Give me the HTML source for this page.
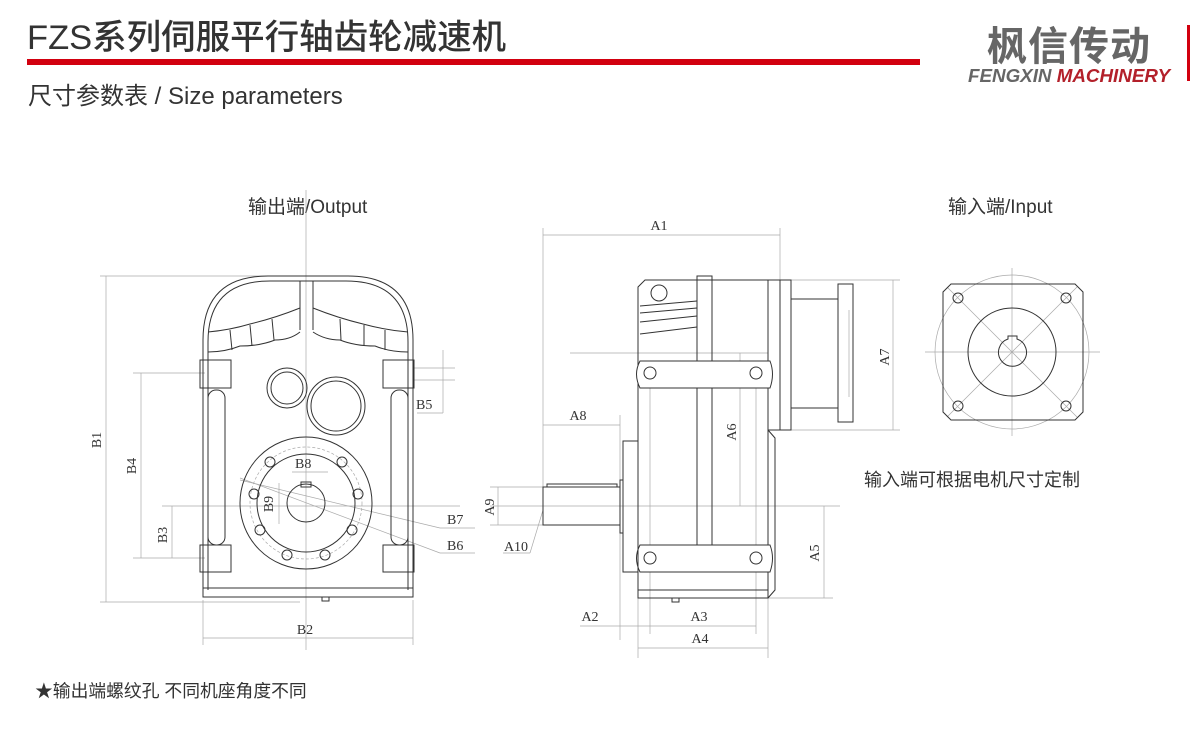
<!DOCTYPE html>
<html><head><meta charset="utf-8"><style>
html,body{margin:0;padding:0;background:#fff;width:1191px;height:746px;overflow:hidden}
svg{display:block}
.t{font-family:"Liberation Sans","Noto Sans CJK SC",sans-serif}
.d{font-family:"Liberation Serif","Noto Serif CJK SC",serif;font-size:14px;fill:#333}
</style></head><body>
<svg width="1191" height="746" viewBox="0 0 1191 746" xmlns="http://www.w3.org/2000/svg">
<!-- header -->
<text class="t" x="27" y="49" font-size="34.5" fill="#333" font-weight="500">FZS系列伺服平行轴齿轮减速机</text>
<rect x="27" y="59" width="893" height="6" fill="#d2000f"/>
<text class="t" x="28" y="104" font-size="24" fill="#333">尺寸参数表 / Size parameters</text>
<text class="t" x="987" y="60" font-size="40" font-weight="bold" fill="#666" letter-spacing="1">枫信传动</text>
<text class="t" x="968" y="82" font-size="18.8" font-weight="bold" font-style="italic" fill="#666">FENGXIN <tspan fill="#b3202a">MACHINERY</tspan></text>
<rect x="1187" y="25" width="3" height="56" fill="#d2000f"/>

<text class="t" x="248" y="213" font-size="19" fill="#333">输出端/Output</text>
<text class="t" x="948" y="213" font-size="19" fill="#333">输入端/Input</text>
<text class="t" x="864" y="486" font-size="18" fill="#333">输入端可根据电机尺寸定制</text>
<text class="t" x="35" y="697" font-size="17.8" fill="#333">★输出端螺纹孔 不同机座角度不同</text>

<g fill="none" stroke="#333" stroke-width="1">
<!-- LEFT VIEW -->
<g stroke="#aaa" stroke-width="0.7">
<line x1="306" y1="190" x2="306" y2="650"/>
<line x1="162" y1="506" x2="460" y2="506"/>
<line x1="100" y1="276" x2="300" y2="276"/>
<line x1="100" y1="602" x2="300" y2="602"/>
<line x1="106" y1="276" x2="106" y2="602"/>
<line x1="133" y1="373" x2="205" y2="373"/>
<line x1="133" y1="558" x2="205" y2="558"/>
<line x1="141" y1="373" x2="141" y2="558"/>
<line x1="172" y1="506" x2="172" y2="558"/>
<line x1="203" y1="600" x2="203" y2="645"/>
<line x1="413" y1="600" x2="413" y2="645"/>
<line x1="203" y1="638" x2="413" y2="638"/>
<line x1="413" y1="368" x2="455" y2="368"/>
<line x1="413" y1="380" x2="455" y2="380"/>
<line x1="443" y1="350" x2="443" y2="413"/>
<line x1="417" y1="413" x2="443" y2="413"/>
<line x1="240" y1="480" x2="440" y2="528"/>
<line x1="440" y1="528" x2="475" y2="528"/>
<line x1="240" y1="478" x2="440" y2="553"/>
<line x1="440" y1="553" x2="475" y2="553"/>
<circle cx="306" cy="503" r="56" stroke-dasharray="3 2"/>
<line x1="292" y1="472" x2="328" y2="472"/>
<line x1="279" y1="483" x2="279" y2="524"/>
</g>
<path d="M203 597 V340 Q203 276 268 276 H348 Q413 276 413 340 V597 Z"/>
<path d="M208 590 V342 Q208 281 270 281 H346 Q408 281 408 342 V590"/>
<rect x="203" y="588" width="210" height="9"/>
<line x1="300" y1="281" x2="300" y2="330"/><line x1="313" y1="281" x2="313" y2="330"/>
<path d="M208 332 Q230 330 250 324 Q275 318 300 308"/>
<path d="M208 352 Q225 352 240 346 Q260 346 275 340 Q290 340 300 332"/>
<path d="M313 308 Q338 318 363 324 Q385 330 408 332"/>
<path d="M313 332 Q325 340 340 340 Q355 346 375 346 Q390 352 408 352"/>
<line x1="230" y1="330" x2="232" y2="350"/><line x1="250" y1="325" x2="252" y2="346"/><line x1="272" y1="319" x2="274" y2="340"/>
<line x1="340" y1="319" x2="341" y2="340"/><line x1="364" y1="325" x2="364" y2="346"/><line x1="385" y1="330" x2="385" y2="350"/>
<rect x="200" y="360" width="31" height="28"/><rect x="383" y="360" width="31" height="28"/>
<rect x="200" y="545" width="31" height="27"/><rect x="383" y="545" width="31" height="27"/>
<rect x="208" y="390" width="17" height="155" rx="8"/><rect x="391" y="390" width="17" height="155" rx="8"/>
<circle cx="287" cy="388" r="20"/><circle cx="287" cy="388" r="16"/>
<circle cx="336" cy="406" r="29"/><circle cx="336" cy="406" r="25"/>
<circle cx="306" cy="503" r="66"/><circle cx="306" cy="503" r="49"/>
<circle cx="306" cy="503" r="19"/>
<rect x="301" y="482" width="10" height="5"/>
<g>
<circle cx="270" cy="462" r="5"/><circle cx="342" cy="462" r="5"/>
<circle cx="254" cy="494" r="5"/><circle cx="358" cy="494" r="5"/>
<circle cx="260" cy="530" r="5"/><circle cx="352" cy="530" r="5"/>
<circle cx="287" cy="555" r="5"/><circle cx="325" cy="555" r="5"/>
</g>
<rect x="322" y="597" width="7" height="4"/>

<!-- MIDDLE VIEW -->
<g stroke="#aaa" stroke-width="0.7">
<line x1="543" y1="228" x2="543" y2="510"/>
<line x1="780" y1="228" x2="780" y2="290"/>
<line x1="543" y1="235" x2="780" y2="235"/>
<line x1="620" y1="415" x2="620" y2="640"/>
<line x1="543" y1="425" x2="620" y2="425"/>
<line x1="570" y1="353" x2="768" y2="353"/>
<line x1="740" y1="353" x2="740" y2="506"/>
<line x1="490" y1="506" x2="840" y2="506"/>
<line x1="490" y1="487" x2="545" y2="487"/>
<line x1="490" y1="525" x2="545" y2="525"/>
<line x1="498" y1="487" x2="498" y2="525"/>
<line x1="768" y1="598" x2="833" y2="598"/>
<line x1="824" y1="506" x2="824" y2="598"/>
<line x1="791" y1="280" x2="900" y2="280"/>
<line x1="791" y1="430" x2="900" y2="430"/>
<line x1="893" y1="280" x2="893" y2="430"/>
<line x1="638" y1="598" x2="638" y2="658"/>
<line x1="768" y1="598" x2="768" y2="658"/>
<line x1="650" y1="373" x2="650" y2="634"/>
<line x1="756" y1="373" x2="756" y2="634"/>
<line x1="580" y1="626" x2="756" y2="626"/>
<line x1="638" y1="648" x2="768" y2="648"/>
<line x1="503" y1="553" x2="530" y2="553"/>
<line x1="530" y1="553" x2="543" y2="510"/>
<line x1="849" y1="310" x2="849" y2="397"/>
</g>
<path d="M638 287 L645 280 H768 V598 H638 Z"/>
<rect x="697" y="276" width="15" height="269"/>
<rect x="768" y="280" width="23" height="150"/>
<line x1="780" y1="280" x2="780" y2="430"/>
<rect x="791" y="299" width="47" height="109"/>
<rect x="838" y="284" width="15" height="138"/>
<path d="M768 430 L775 438 V590 L768 598"/>
<circle cx="659" cy="293" r="8"/>
<line x1="640" y1="306" x2="697" y2="301"/><line x1="640" y1="313" x2="697" y2="308"/>
<line x1="640" y1="322" x2="697" y2="316"/><line x1="640" y1="334" x2="697" y2="327"/>
<path d="M640 361 H770 Q775 374 770 388 H640 Q633 374 640 361 Z" fill="#fff"/>
<path d="M640 545 H770 Q775 558 770 572 H640 Q633 558 640 545 Z" fill="#fff"/>
<circle cx="650" cy="373" r="6"/><circle cx="756" cy="373" r="6"/>
<circle cx="650" cy="558" r="6"/><circle cx="756" cy="558" r="6"/>
<rect x="623" y="441" width="15" height="131"/>
<rect x="543" y="487" width="77" height="38"/>
<rect x="547" y="484" width="70" height="3"/>
<rect x="620" y="480" width="3" height="53"/>
<line x1="638" y1="590" x2="768" y2="590"/>
<rect x="672" y="598" width="7" height="4"/>

<!-- RIGHT VIEW -->
<g stroke="#aaa" stroke-width="0.7">
<circle cx="1012" cy="352" r="77"/>
<line x1="925" y1="352" x2="1100" y2="352"/>
<line x1="1012" y1="268" x2="1012" y2="436"/>
<line x1="947" y1="287" x2="1077" y2="417"/>
<line x1="1077" y1="287" x2="947" y2="417"/>
</g>
<path d="M951 284 H1075 L1083 292 V412 L1075 420 H951 L943 412 V292 Z"/>
<circle cx="1012" cy="352" r="44"/>
<path d="M1008 339 A14 14 0 1 0 1017 339 V336 H1008 Z"/>
<circle cx="958" cy="298" r="5"/><circle cx="1066" cy="298" r="5"/>
<circle cx="958" cy="406" r="5"/><circle cx="1066" cy="406" r="5"/>
</g>

<!-- dimension labels -->
<text class="d" transform="translate(101 440) rotate(-90)" text-anchor="middle">B1</text>
<text class="d" transform="translate(136 466) rotate(-90)" text-anchor="middle">B4</text>
<text class="d" transform="translate(167 535) rotate(-90)" text-anchor="middle">B3</text>
<text class="d" x="305" y="634" text-anchor="middle">B2</text>
<text class="d" x="416" y="409">B5</text>
<text class="d" x="447" y="524">B7</text>
<text class="d" x="447" y="550">B6</text>
<text class="d" x="295" y="468">B8</text>
<text class="d" transform="translate(273 504) rotate(-90)" text-anchor="middle">B9</text>
<text class="d" x="659" y="230" text-anchor="middle">A1</text>
<text class="d" x="578" y="420" text-anchor="middle">A8</text>
<text class="d" transform="translate(736 432) rotate(-90)" text-anchor="middle">A6</text>
<text class="d" transform="translate(889 357) rotate(-90)" text-anchor="middle">A7</text>
<text class="d" transform="translate(819 553) rotate(-90)" text-anchor="middle">A5</text>
<text class="d" transform="translate(494 507) rotate(-90)" text-anchor="middle">A9</text>
<text class="d" x="516" y="551" text-anchor="middle">A10</text>
<text class="d" x="590" y="621" text-anchor="middle">A2</text>
<text class="d" x="699" y="621" text-anchor="middle">A3</text>
<text class="d" x="700" y="643" text-anchor="middle">A4</text>
</svg>
</body></html>
